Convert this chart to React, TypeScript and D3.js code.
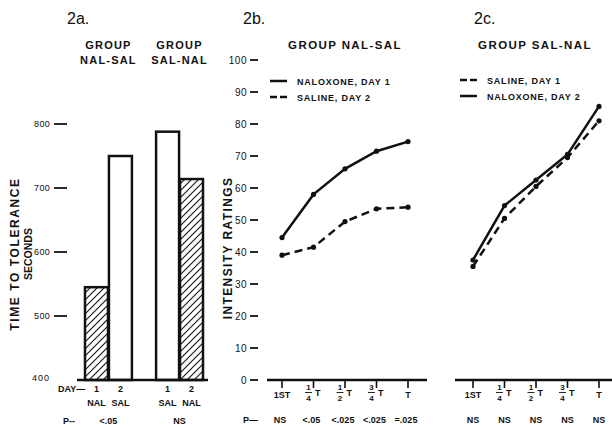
import * as d3 from "d3";

// panel 2a: time to tolerance (seconds)
const groups = ["NAL-SAL", "SAL-NAL"];
const days = ["1", "2"];
const dayDrugs = [
  ["NAL", "SAL"],
  ["SAL", "NAL"],
];
const toleranceTimes = [
  [545, 750],
  [788, 714],
];
const barPValues = ["<.05", "NS"];
const secondTicks = [400, 500, 600, 700, 800];

// panels 2b / 2c: intensity ratings
const timepoints = ["1ST", "1/4", "1/2", "3/4", "T"];
const ratingTicks = [0, 10, 20, 30, 40, 50, 60, 70, 80, 90, 100];
const nalSalNaloxone = [44.5, 58, 66, 71.5, 74.5];
const nalSalSaline = [39, 41.5, 49.5, 53.5, 54];
const salNalSaline = [35.5, 50.5, 60.5, 69.5, 81];
const salNalNaloxone = [37.5, 54.5, 62.5, 70.5, 85.5];
const nalSalP = ["NS", "<.05", "<.025", "<.025", "=.025"];
const salNalP = ["NS", "NS", "NS", "NS", "NS"];

const font = "'Liberation Sans', Arial, sans-serif";
const ink = "#111";

function TimeAxis({ x, from, to }: { x: d3.ScalePoint<string>; from: number; to: number }) {
  return (
    <g>
      <line x1={from} x2={to} y1={380} y2={380} stroke={ink} strokeWidth={2.5} />
      {timepoints.map((t) => {
        const px = x(t) ?? 0;
        const frac = t.includes("/");
        const [num, den] = t.split("/");
        return (
          <g key={t}>
            <line x1={px} x2={px} y1={380} y2={388} stroke={ink} strokeWidth={1.6} />
            {frac ? (
              <g fontSize={8} fontWeight="bold" textAnchor="middle">
                <text x={px - 5} y={390}>{num}</text>
                <line x1={px - 8.5} x2={px - 1.5} y1={392.5} y2={392.5} stroke={ink} strokeWidth={0.9} />
                <text x={px - 5} y={400.5}>{den}</text>
                <text x={px + 1.5} y={396} fontSize={9} textAnchor="start">T</text>
              </g>
            ) : (
              <text x={px} y={398} fontSize={9} fontWeight="bold" textAnchor="middle">
                {t}
              </text>
            )}
          </g>
        );
      })}
    </g>
  );
}

function Legend({ x, y, items }: { x: number; y: number; items: { label: string; dashed: boolean }[] }) {
  return (
    <g>
      {items.map((it, i) => (
        <g key={it.label}>
          <line
            x1={x}
            x2={x + 17}
            y1={y + i * 16}
            y2={y + i * 16}
            stroke={ink}
            strokeWidth={2.5}
            strokeDasharray={it.dashed ? "7 3" : undefined}
          />
          <text x={x + 27} y={y + i * 16 + 3.5} fontSize={9} fontWeight="bold" letterSpacing={0.8}>
            {it.label}
          </text>
        </g>
      ))}
    </g>
  );
}

function Series({ x, y, values, dashed }: { x: d3.ScalePoint<string>; y: d3.ScaleLinear<number, number>; values: number[]; dashed: boolean }) {
  const line = d3
    .line<number>()
    .x((_, i) => x(timepoints[i]) ?? 0)
    .y((d) => y(d));
  return (
    <g>
      <path
        d={line(values) ?? undefined}
        fill="none"
        stroke={ink}
        strokeWidth={2.5}
        strokeDasharray={dashed ? "8 5" : undefined}
      />
      {values.map((v, i) => (
        <circle key={i} cx={x(timepoints[i]) ?? 0} cy={y(v)} r={2.6} fill={ink} />
      ))}
    </g>
  );
}

export default function App() {
  const ySec = d3.scaleLinear().domain([400, 800]).range([380, 124]);
  const xGroup = d3.scaleBand<string>().domain(groups).range([85, 203]).paddingInner(0.34);
  const xDay = d3.scaleBand<string>().domain(days).range([0, xGroup.bandwidth()]).paddingInner(0.04);

  const yRating = d3.scaleLinear().domain([0, 100]).range([380, 60]);
  const xB = d3.scalePoint<string>().domain(timepoints).range([282, 408]);
  const xC = d3.scalePoint<string>().domain(timepoints).range([473, 599]);

  return (
    <svg
      width={612}
      height={427}
      style={{ position: "absolute", left: 0, top: 0, background: "#fff" }}
      fontFamily={font}
      fill={ink}
    >
      <defs>
        <pattern id="hatch" patternUnits="userSpaceOnUse" width={7} height={7}>
          <path d="M-1,1 l2,-2 M0,7 l7,-7 M6,8 l2,-2" stroke={ink} strokeWidth={1.1} />
        </pattern>
      </defs>
      <rect width={612} height={427} fill="#fff" />

      {/* ---------- 2a ---------- */}
      <text x={67} y={24} fontSize={16}>2a.</text>
      {groups.map((g) => {
        const cx = (xGroup(g) ?? 0) + xGroup.bandwidth() / 2;
        return (
          <g key={g} fontSize={11} fontWeight="bold" textAnchor="middle" letterSpacing={1.2}>
            <text x={cx} y={49}>GROUP</text>
            <text x={cx} y={64}>{g}</text>
          </g>
        );
      })}
      <g transform="translate(19,254) rotate(-90)" textAnchor="middle" fontWeight="bold">
        <text fontSize={12} letterSpacing={1.6}>TIME TO TOLERANCE</text>
        <text y={12.5} fontSize={10.5}>SECONDS</text>
      </g>
      {secondTicks.map((t) =>
        t === 400 ? (
          <text key={t} x={50} y={381} fontSize={9} textAnchor="end" letterSpacing={1}>
            {t}
          </text>
        ) : (
          <g key={t}>
            <text x={50} y={ySec(t) + 3.2} fontSize={9} textAnchor="end" letterSpacing={0.3}>
              {t}
            </text>
            <line x1={54} x2={67} y1={ySec(t)} y2={ySec(t)} stroke={ink} strokeWidth={1.8} />
          </g>
        )
      )}
      {groups.map((g, gi) =>
        days.map((d, di) => {
          const x0 = (xGroup(g) ?? 0) + (xDay(d) ?? 0);
          const v = toleranceTimes[gi][di];
          return (
            <rect
              key={g + d}
              x={x0}
              y={ySec(v)}
              width={xDay.bandwidth()}
              height={ySec(400) - ySec(v)}
              fill={dayDrugs[gi][di] === "NAL" ? "url(#hatch)" : "#fff"}
              stroke={ink}
              strokeWidth={2.5}
            />
          );
        })
      )}
      <line x1={77} x2={208} y1={380} y2={380} stroke={ink} strokeWidth={2.5} />
      <text x={58} y={392} fontSize={9} fontWeight="bold">DAY—</text>
      {groups.map((g, gi) =>
        days.map((d, di) => {
          const cx = (xGroup(g) ?? 0) + (xDay(d) ?? 0) + xDay.bandwidth() / 2;
          return (
            <g key={g + d} fontSize={9} fontWeight="bold" textAnchor="middle">
              <text x={cx} y={392}>{d}</text>
              <text x={cx} y={406}>{dayDrugs[gi][di]}</text>
            </g>
          );
        })
      )}
      <text x={63} y={424} fontSize={9} fontWeight="bold">P--</text>
      {groups.map((g, gi) => (
        <text
          key={g}
          x={(xGroup(g) ?? 0) + xGroup.bandwidth() / 2}
          y={424}
          fontSize={9}
          fontWeight="bold"
          textAnchor="middle"
        >
          {barPValues[gi]}
        </text>
      ))}

      {/* ---------- 2b ---------- */}
      <text x={243} y={24} fontSize={16}>2b.</text>
      <text x={345} y={49} fontSize={11.5} fontWeight="bold" textAnchor="middle" letterSpacing={1.4}>
        GROUP NAL-SAL
      </text>
      <text
        transform="translate(232,248) rotate(-90)"
        fontSize={12}
        fontWeight="bold"
        textAnchor="middle"
        letterSpacing={1.4}
      >
        INTENSITY RATINGS
      </text>
      {ratingTicks.map((t) => (
        <g key={t}>
          <text x={247} y={yRating(t) + 3.5} fontSize={10} textAnchor="end" letterSpacing={0.5}>
            {t}
          </text>
          <line x1={250} x2={258} y1={yRating(t)} y2={yRating(t)} stroke={ink} strokeWidth={1.8} />
        </g>
      ))}
      <Legend
        x={270}
        y={81}
        items={[
          { label: "NALOXONE, DAY 1", dashed: false },
          { label: "SALINE,  DAY 2", dashed: true },
        ]}
      />
      <Series x={xB} y={yRating} values={nalSalNaloxone} dashed={false} />
      <Series x={xB} y={yRating} values={nalSalSaline} dashed={true} />
      <TimeAxis x={xB} from={267} to={427} />
      <text x={243} y={423} fontSize={9} fontWeight="bold">P—</text>
      {nalSalP.map((p, i) => (
        <text key={i} x={(xB(timepoints[i]) ?? 0) - 2} y={423} fontSize={9} fontWeight="bold" textAnchor="middle">
          {p}
        </text>
      ))}

      {/* ---------- 2c ---------- */}
      <text x={474} y={24} fontSize={16}>2c.</text>
      <text x={535} y={49} fontSize={11.5} fontWeight="bold" textAnchor="middle" letterSpacing={1.4}>
        GROUP SAL-NAL
      </text>
      <Legend
        x={460}
        y={80}
        items={[
          { label: "SALINE, DAY 1", dashed: true },
          { label: "NALOXONE, DAY 2", dashed: false },
        ]}
      />
      <Series x={xC} y={yRating} values={salNalNaloxone} dashed={false} />
      <Series x={xC} y={yRating} values={salNalSaline} dashed={true} />
      <TimeAxis x={xC} from={455} to={612} />
      {salNalP.map((p, i) => (
        <text key={i} x={xC(timepoints[i]) ?? 0} y={423} fontSize={9} fontWeight="bold" textAnchor="middle">
          {p}
        </text>
      ))}
    </svg>
  );
}
